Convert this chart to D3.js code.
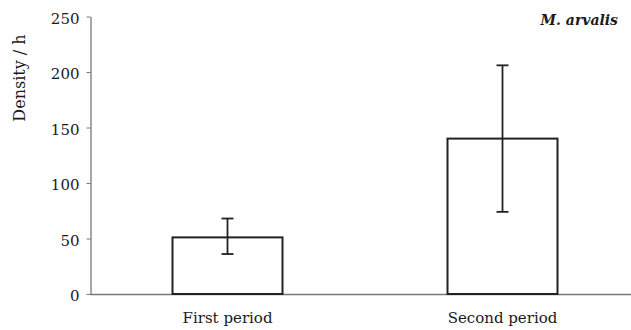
<!DOCTYPE html>
<html>
<head>
<meta charset="utf-8">
<script src="https://cdn.jsdelivr.net/npm/d3@7"></script>
<style>
  body { margin: 0; background: #fff; }
  svg text { font-family: "DejaVu Serif", "Liberation Serif", serif; fill: #1a1a1a; }
</style>
</head>
<body>
<div id="container"></div>
<script>
    // chart data
    const periods = ["First period", "Second period"];
    const density = [51, 140];
    const errLow = [36, 74];
    const errHigh = [68, 206];
    const yTicks = [0, 50, 100, 150, 200, 250];

    const width = 631;
    const height = 330;

    const svg = d3.create("svg")
        .attr("width", width)
        .attr("height", height);

    const x = d3.scaleBand()
        .domain(periods)
        .range([90, 640])
        .paddingInner(0.6)
        .paddingOuter(0.3);

    const y = d3.scaleLinear()
        .domain([0, 250])
        .range([294, 16.5]);

    // y axis
    const yAxis = svg.append("g")
        .attr("transform", "translate(90.5,0)")
        .call(d3.axisLeft(y).tickValues(yTicks).tickSize(4).tickSizeOuter(0));
    yAxis.attr("font-family", null);
    yAxis.select(".domain").attr("stroke", "#777").attr("stroke-width", 1.3);
    yAxis.selectAll(".tick line").attr("stroke", "#777");
    yAxis.selectAll(".tick text")
        .attr("x", -11)
        .attr("dy", "0.45em")
        .style("font-size", "15px")
        .attr("fill", "#222");

    // x axis (baseline only)
    const xAxis = svg.append("g")
        .attr("transform", "translate(0,294)")
        .call(d3.axisBottom(x).tickSize(0).tickPadding(18));
    xAxis.attr("font-family", null);
    xAxis.select(".domain").attr("stroke", "#777").attr("stroke-width", 1.3);
    xAxis.selectAll(".tick text")
        .style("font-size", "15px")
        .attr("fill", "#1a1a1a");

    // bars
    svg.append("g").selectAll("rect")
        .data(periods)
        .join("rect")
        .attr("x", d => x(d))
        .attr("y", (d, i) => y(density[i]))
        .attr("width", x.bandwidth())
        .attr("height", (d, i) => y(0) - y(density[i]))
        .attr("fill", "#fff")
        .attr("stroke", "#222")
        .attr("stroke-width", 2);

    // error bars
    const err = svg.append("g").attr("stroke", "#222").attr("stroke-width", 1.8);
    periods.forEach((p, i) => {
        const cx = x(p) + x.bandwidth() / 2;
        err.append("line")
            .attr("x1", cx).attr("x2", cx)
            .attr("y1", y(errLow[i])).attr("y2", y(errHigh[i]));
        [errLow[i], errHigh[i]].forEach(v => {
            err.append("line")
                .attr("x1", cx - 6).attr("x2", cx + 6)
                .attr("y1", y(v)).attr("y2", y(v));
        });
    });

    // y label
    svg.append("text")
        .attr("transform", "translate(25,78) rotate(-90)")
        .attr("text-anchor", "middle")
        .style("font-size", "16px")
        .text("Density / h");

    // species label
    svg.append("text")
        .attr("x", 618)
        .attr("y", 25)
        .attr("text-anchor", "end")
        .style("font-size", "14px")
        .style("font-style", "italic")
        .style("font-weight", "bold")
        .text("M. arvalis");

    container.append(svg.node());
</script>
</body>
</html>
